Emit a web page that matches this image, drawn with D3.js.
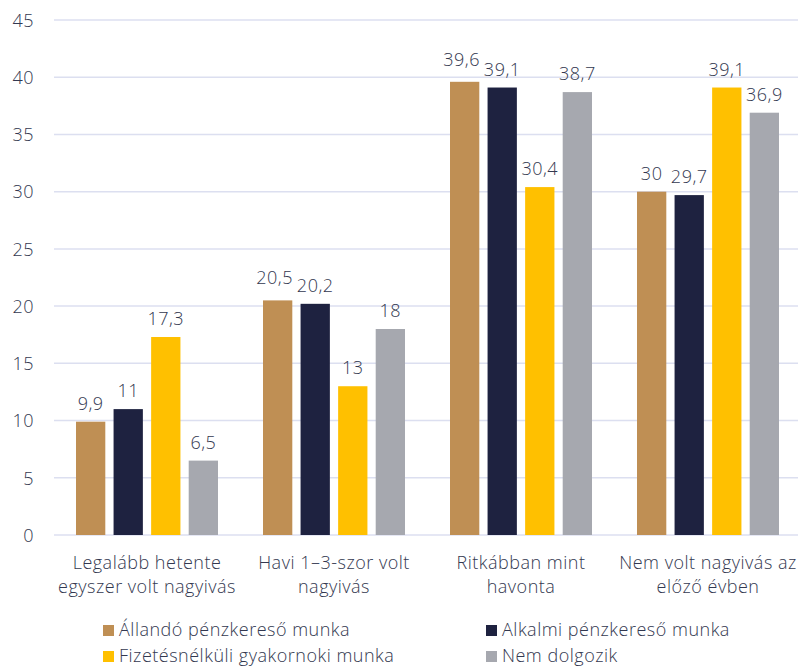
<!DOCTYPE html>
<html><head><meta charset="utf-8">
<script src="https://cdn.jsdelivr.net/npm/d3@7"></script>
<style>body{margin:0;background:#fff;} text{font-family:"Open Sans","Noto Sans",sans-serif;font-weight:300;fill:#333850;letter-spacing:0.5px;}</style>
</head><body>
<svg id="c" width="798" height="668"></svg>
<script>
(function(){
const categories = [["Legalább hetente","egyszer volt nagyivás"],["Havi 1–3-szor volt","nagyivás"],["Ritkábban mint","havonta"],["Nem volt nagyivás az","előző évben"]];
const seriesNames = ["Állandó pénzkereső munka","Alkalmi pénzkereső munka","Fizetésnélküli gyakornoki munka","Nem dolgozik"];
const colors = ["#BF8F54","#1E2240","#FFC000","#A6A8AF"];
const values = [
  [9.9, 20.5, 39.6, 30],
  [11, 20.2, 39.1, 29.7],
  [17.3, 13, 30.4, 39.1],
  [6.5, 18, 38.7, 36.9]
];
const yTicks = [0,5,10,15,20,25,30,35,40,45];

const FS = "18px";
const svg = d3.select("#c");
const mLeft = 54, mRight = 798, mTop = 20, mBottom = 535;
const y = d3.scaleLinear().domain([0,45]).range([mBottom, mTop]);
const x0 = d3.scaleBand().domain(d3.range(categories.length)).range([mLeft, mLeft + 4*187]).paddingInner(0).paddingOuter(0);
const x1 = d3.scaleBand().domain(d3.range(seriesNames.length)).range([22, 22+142]).paddingInner(0.22).paddingOuter(0);

svg.append("g").selectAll("line").data(yTicks).join("line")
  .attr("x1", mLeft).attr("x2", mRight).attr("y1", d=>y(d)).attr("y2", d=>y(d))
  .attr("stroke", "#dcdff0").attr("stroke-width", 1.5);

const yAxis = d3.axisLeft(y).tickValues(yTicks).tickSize(0).tickPadding(0);
const gy = svg.append("g").attr("transform", `translate(${mLeft-20},0)`).call(yAxis);
gy.select(".domain").remove();
gy.selectAll("text").style("font-size",FS).style("font-family","'Open Sans','Noto Sans',sans-serif").style("font-weight","300").style("letter-spacing","0.5px").attr("dy","0.35em").attr("text-anchor","end").style("fill","#333850");

const fmt = v => String(v).replace(".", ",");
const groups = svg.append("g").selectAll("g").data(categories).join("g")
  .attr("transform", (d,i)=>`translate(${x0(i)},0)`);
groups.each(function(cat, ci){
  const g = d3.select(this);
  const labels = [];
  seriesNames.forEach((s, si)=>{
    const v = values[si][ci];
    g.append("rect").attr("x", x1(si)).attr("width", x1.bandwidth())
      .attr("y", y(v)).attr("height", y(0)-y(v)).attr("fill", colors[si]);
    const t = g.append("text").attr("x", x1(si)+x1.bandwidth()/2).attr("y", y(v)-12)
      .attr("text-anchor","middle").style("font-size",FS).text(fmt(v));
    labels.push(t);
  });
  for (let i = 0; i < labels.length-1; i++) {
    const a = labels[i].node().getBBox(), b = labels[i+1].node().getBBox();
    const overlapX = a.x + a.width > b.x - 1;
    const overlapY = Math.abs(a.y - b.y) < a.height;
    if (overlapX && overlapY) {
      const up = a.y <= b.y ? labels[i] : labels[i+1];
      const dir = a.y <= b.y ? -1 : 1;
      up.attr("y", +up.attr("y") - 4).attr("x", +up.attr("x") + dir*3);
    }
  }
  cat.forEach((line, li)=>{
    g.append("text").attr("x", 22+71).attr("y", 569 + li*24)
      .attr("text-anchor","middle").style("font-size",FS).text(line);
  });
});

const legPos = [[103,636],[486,636],[103,662],[486,662]];
seriesNames.forEach((s,i)=>{
  const [lx,ly] = legPos[i];
  svg.append("rect").attr("x", lx).attr("y", ly-11).attr("width", 11).attr("height", 11).attr("fill", colors[i]);
  svg.append("text").attr("x", lx+16).attr("y", ly).style("font-size",FS).text(s);
});
})();
</script>
</body></html>
